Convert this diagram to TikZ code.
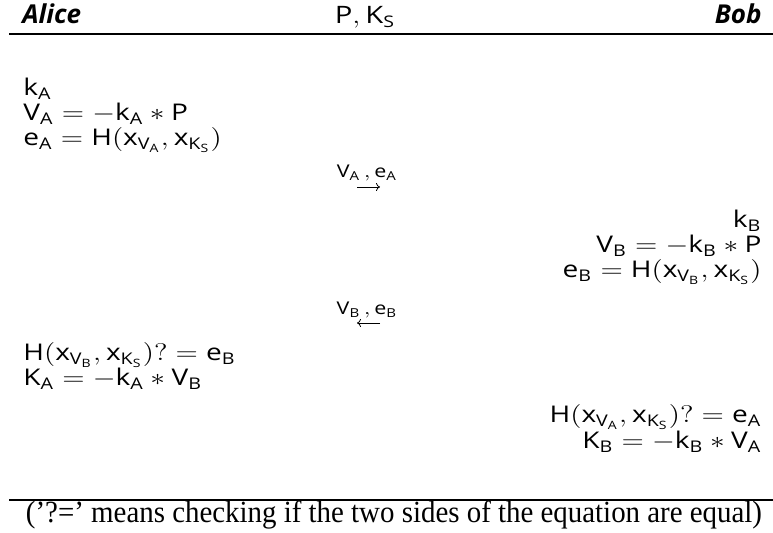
\documentclass[tikz,border=0pt]{standalone}
\usepackage{fontspec}
\setsansfont{Open Sans}
\setmathsf{Open Sans}
\newfontfamily\notefont{Liberation Serif}
\usetikzlibrary{arrows.meta}
\newcommand{\ms}[1]{\mathsf{#1}}
\newcommand{\wide}[1]{\scalebox{1.22}[1]{#1}}
\tikzset{
  head/.style={inner sep=0pt,font=\fontsize{13}{15}\selectfont\sffamily},
  lefteq/.style={anchor=base west,inner sep=0pt,font=\fontsize{11.5}{13}\selectfont},
  righteq/.style={anchor=base east,inner sep=0pt,font=\fontsize{11.5}{13}\selectfont},
  msg/.style={anchor=base,inner sep=0pt,font=\fontsize{8.8}{10}\selectfont},
  rule/.style={line width=0.6pt},
  msgarrow/.style={line width=0.4pt,-{To[length=2pt,width=4pt]}}
}
\begin{document}
\begin{tikzpicture}[x=0.5pt,y=-0.5pt]
\useasboundingbox (0,0) rectangle (773,533);
% header
\node[head,anchor=base west] (alice) at (22,24) {\bfseries\itshape Alice};
\node[head,anchor=base,font=\fontsize{12}{14}\selectfont] (pub) at (365,24) {\wide{$\ms{P, K_S}$}};
\node[head,anchor=base east] (bob) at (762,24) {\bfseries\itshape Bob};
\draw[rule] (9,34) -- (773,34);
% Alice, first step
\foreach \y/\n/\txt in {96/kA/{$\ms{k_A}$},
    121/VA/{$\ms{V_A} = -\ms{k_A} * \ms{P}$},
    146/eA/{$\ms{e_A} = \ms{H}(\ms{x_{V_A}}, \ms{x_{K_S}})$}}
  \node[lefteq] (\n) at (23,\y) {\wide{\txt}};
\node[msg] (msgA) at (367,178) {\wide{$\ms{V_A}\,, \ms{e_A}$}};
\draw[msgarrow] ([shift={(-10,9)}]msgA.base) -- ([shift={(13,9)}]msgA.base);
% Bob, first step
\foreach \y/\n/\txt in {228/kB/{$\ms{k_B}$},
    253/VB/{$\ms{V_B} = -\ms{k_B} * \ms{P}$},
    278/eB/{$\ms{e_B} = \ms{H}(\ms{x_{V_B}}, \ms{x_{K_S}})$}}
  \node[righteq] (\n) at (762,\y) {\wide{\txt}};
\node[msg] (msgB) at (367,315) {\wide{$\ms{V_B}\,, \ms{e_B}$}};
\draw[msgarrow] ([shift={(13,8)}]msgB.base) -- ([shift={(-10,8)}]msgB.base);
% checks
\node[lefteq] (chkA) at (23,361) {\wide{$\ms{H}(\ms{x_{V_B}}, \ms{x_{K_S}})? = \ms{e_B}$}};
\node[lefteq] (KA) at (23,386) {\wide{$\ms{K_A} = -\ms{k_A} * \ms{V_B}$}};
\node[righteq] (chkB) at (762,423) {\wide{$\ms{H}(\ms{x_{V_A}}, \ms{x_{K_S}})? = \ms{e_A}$}};
\node[righteq] (KB) at (762,449) {\wide{$\ms{K_B} = -\ms{k_B} * \ms{V_A}$}};
% note
\draw[rule] (9,500) -- (773,500);
\node[msg] (note) at (394,523) {\resizebox{368pt}{1.1\height}{\notefont\fontsize{14}{16}\selectfont (’?=’ means checking if the two sides of the equation are equal)}};
\end{tikzpicture}
\end{document}
